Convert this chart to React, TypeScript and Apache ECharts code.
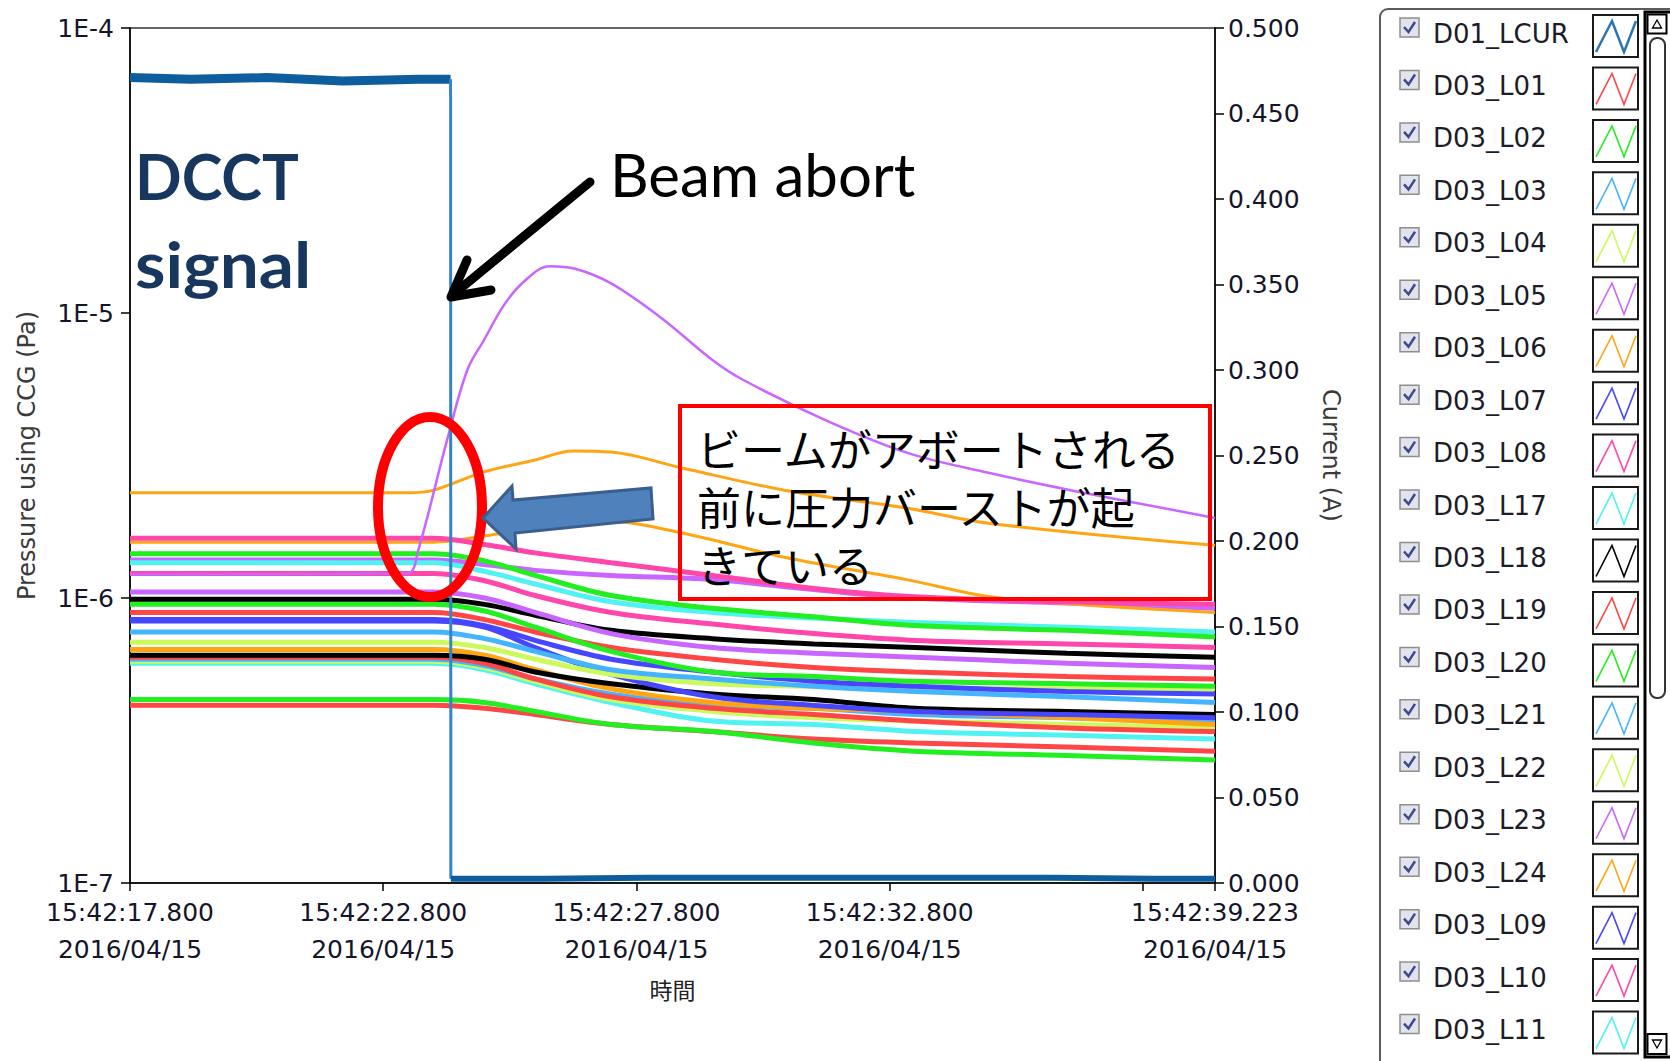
import React, { useEffect, useRef } from 'react';
import * as echarts from 'echarts';

// ---------------- data ----------------
const X_MIN = 17.8;
const X_MAX = 39.223;
const X_TICK_VALUES = [17.8, 22.8, 27.8, 32.8, 37.8, 39.223];
const X_LABEL_VALUES = [17.8, 22.8, 27.8, 32.8, 39.223];
const DATE_LABEL = '2016/04/15';
const TIME_PREFIX = '15:42:';

// DCCT beam current (A), right axis
const DCCT_T = [17.8, 19.0, 20.5, 22.0, 23.5, 24.13, 24.135, 26.0, 28.0, 30.0, 32.0, 34.0, 36.0, 38.0, 39.223];
const DCCT_A = [0.471, 0.470, 0.471, 0.469, 0.470, 0.470, 0.0025, 0.0025, 0.003, 0.003, 0.003, 0.003, 0.003, 0.0025, 0.0025];
const ABORT_INDEX = 5;

// Common time grid (s within 15:42) for the gauge traces
const T_GRID = [17.8, 23.8, 24.8, 25.8, 27.3, 29.3, 31.3, 33.3, 36.3, 39.223];

// Pressures in units of 1E-6 Pa
const L01 = [0.89, 0.89, 0.84, 0.76, 0.67, 0.61, 0.57, 0.55, 0.53, 0.52];
const L02 = [1.43, 1.43, 1.35, 1.20, 1.02, 0.92, 0.86, 0.80, 0.77, 0.73];
const L03 = [0.76, 0.76, 0.72, 0.65, 0.56, 0.52, 0.49, 0.47, 0.45, 0.43];
const L04 = [0.70, 0.70, 0.67, 0.61, 0.54, 0.50, 0.49, 0.48, 0.48, 0.48];
const L07 = [0.84, 0.84, 0.80, 0.71, 0.61, 0.55, 0.51, 0.49, 0.47, 0.46];
const L08 = [1.62, 1.62, 1.54, 1.44, 1.33, 1.20, 1.08, 1.01, 0.97, 0.95];
const L09 = [0.83, 0.83, 0.79, 0.67, 0.54, 0.45, 0.42, 0.40, 0.39, 0.38];
const L10 = [1.22, 1.22, 1.15, 1.02, 0.89, 0.81, 0.75, 0.71, 0.69, 0.67];
const L11 = [0.59, 0.59, 0.56, 0.50, 0.43, 0.37, 0.36, 0.34, 0.33, 0.32];
const L12 = [0.63, 0.63, 0.61, 0.55, 0.50, 0.46, 0.44, 0.41, 0.40, 0.39];
const L13 = [0.42, 0.42, 0.41, 0.39, 0.36, 0.34, 0.32, 0.31, 0.30, 0.29];
const L14 = [0.44, 0.44, 0.43, 0.40, 0.36, 0.34, 0.31, 0.29, 0.28, 0.27];
const L17 = [1.33, 1.33, 1.24, 1.12, 0.97, 0.89, 0.85, 0.82, 0.79, 0.76];
const L18 = [0.99, 0.99, 0.95, 0.87, 0.77, 0.72, 0.69, 0.67, 0.64, 0.62];
const L19 = [0.62, 0.62, 0.59, 0.52, 0.45, 0.41, 0.39, 0.37, 0.35, 0.34];
const L20 = [0.95, 0.95, 0.90, 0.79, 0.65, 0.55, 0.53, 0.51, 0.50, 0.49];
const L21 = [0.61, 0.61, 0.58, 0.52, 0.46, 0.42, 0.41, 0.39, 0.38, 0.37];
const L22 = [0.60, 0.60, 0.57, 0.51, 0.44, 0.40, 0.38, 0.37, 0.36, 0.35];
const L23 = [1.36, 1.36, 1.31, 1.25, 1.20, 1.16, 1.07, 1.00, 0.96, 0.92];
const L25 = [1.05, 1.05, 1.00, 0.89, 0.75, 0.67, 0.64, 0.62, 0.59, 0.57];
const L26 = [0.66, 0.66, 0.63, 0.56, 0.48, 0.43, 0.41, 0.40, 0.38, 0.36];

// Traces with their own sampling
const L05_T = [17.8, 23.27, 23.49, 24.06, 24.46, 24.79, 25.19, 25.58, 26.08, 26.59, 27.30, 28.29, 29.30, 29.91, 31.53, 33.15, 34.75, 36.37, 39.223];
const L05 = [1.21, 1.22, 1.47, 3.58, 6.31, 8.04, 10.7, 12.9, 14.6, 14.3, 12.7, 9.61, 6.84, 5.82, 4.21, 3.23, 2.75, 2.39, 1.91];
const L06_T = [17.8, 23.29, 23.80, 24.79, 25.80, 26.55, 27.30, 28.70, 30.72, 33.13, 34.75, 39.223];
const L06 = [2.34, 2.34, 2.39, 2.77, 3.05, 3.28, 3.25, 2.86, 2.39, 2.07, 1.83, 1.53];
const L24_T = [17.8, 23.80, 24.79, 25.80, 27.30, 28.70, 30.72, 33.13, 34.98, 39.223];
const L24 = [1.57, 1.57, 1.65, 1.76, 1.85, 1.69, 1.39, 1.16, 1.00, 0.89];

const COL = {
  lcur: '#0E5E9F',
  red: '#FF4646',
  green: '#22EE22',
  lblue: '#44B4FF',
  yg: '#CCFA5C',
  violet: '#C866FF',
  orange: '#FFA514',
  blue: '#4646FF',
  pink: '#FF46AA',
  cyan: '#50F2F2',
  black: '#000000',
};

const LEGEND_NAMES = ['D01_LCUR', 'D03_L01', 'D03_L02', 'D03_L03', 'D03_L04', 'D03_L05', 'D03_L06', 'D03_L07', 'D03_L08', 'D03_L17', 'D03_L18', 'D03_L19', 'D03_L20', 'D03_L21', 'D03_L22', 'D03_L23', 'D03_L24', 'D03_L09', 'D03_L10', 'D03_L11'];
const LEGEND_COLORS = ['#2C74B2', COL.red, COL.green, COL.lblue, COL.yg, COL.violet, COL.orange, COL.blue, COL.pink, COL.cyan, COL.black, COL.red, COL.green, COL.lblue, COL.yg, COL.violet, COL.orange, COL.blue, COL.pink, COL.cyan];

const NOTE_TEXT = ['ビームがアボートされる', '前に圧力バーストが起', 'きている'];

type Trace = { name: string; color: string; t: number[]; v: number[]; width?: number };
const PRESSURE: Trace[] = [
  { name: 'D03_L13', color: COL.red, t: T_GRID, v: L13 },
  { name: 'D03_L14', color: COL.green, t: T_GRID, v: L14 },
  { name: 'D03_L11', color: COL.cyan, t: T_GRID, v: L11 },
  { name: 'D03_L22', color: COL.yg, t: T_GRID, v: L22 },
  { name: 'D03_L21', color: COL.lblue, t: T_GRID, v: L21 },
  { name: 'D03_L19', color: COL.red, t: T_GRID, v: L19 },
  { name: 'D03_L26', color: COL.orange, t: T_GRID, v: L26 },
  { name: 'D03_L12', color: COL.black, t: T_GRID, v: L12 },
  { name: 'D03_L09', color: COL.blue, t: T_GRID, v: L09 },
  { name: 'D03_L04', color: COL.yg, t: T_GRID, v: L04 },
  { name: 'D03_L03', color: COL.lblue, t: T_GRID, v: L03 },
  { name: 'D03_L07', color: COL.blue, t: T_GRID, v: L07 },
  { name: 'D03_L01', color: COL.red, t: T_GRID, v: L01 },
  { name: 'D03_L20', color: COL.green, t: T_GRID, v: L20 },
  { name: 'D03_L18', color: COL.black, t: T_GRID, v: L18 },
  { name: 'D03_L25', color: COL.violet, t: T_GRID, v: L25 },
  { name: 'D03_L10', color: COL.pink, t: T_GRID, v: L10 },
  { name: 'D03_L23', color: COL.violet, t: T_GRID, v: L23 },
  { name: 'D03_L17', color: COL.cyan, t: T_GRID, v: L17 },
  { name: 'D03_L02', color: COL.green, t: T_GRID, v: L02 },
  { name: 'D03_L24', color: COL.orange, t: L24_T, v: L24, width: 3 },
  { name: 'D03_L08', color: COL.pink, t: T_GRID, v: L08 },
  { name: 'D03_L06', color: COL.orange, t: L06_T, v: L06, width: 3 },
  { name: 'D03_L05', color: COL.violet, t: L05_T, v: L05, width: 2.5 },
];

// ---------------- helpers ----------------
const pad = (n: number, w: number) => String(n).padStart(w, '0');
function timeLabel(v: number): string {
  const sec = Math.floor(v + 1e-9);
  const ms = Math.round((v - sec) * 1000);
  return `${TIME_PREFIX}${pad(sec, 2)}.${pad(ms, 3)}\n${DATE_LABEL}`;
}

const TICK_FONT = 'DejaVu Sans';
const TEXT_COLOR = '#15152a';

function buildLegendGraphics(): any[] {
  const g: any[] = [];
  g.push({ type: 'rect', z: 1, shape: { x: 1380, y: 9, width: 320, height: 1100, r: 8 }, style: { fill: '#ffffff', stroke: '#5c5c5c', lineWidth: 2 } });
  const step = 52.45;
  LEGEND_NAMES.forEach((name, i) => {
    const cy = 18 + step * i;
    g.push({ type: 'rect', z: 2, shape: { x: 1400, y: cy, width: 19, height: 19 }, style: { fill: '#E2E3EC', stroke: '#8E8E8E', lineWidth: 1.5 } });
    g.push({ type: 'polyline', z: 3, shape: { points: [[1404, cy + 9], [1408.5, cy + 14], [1415, cy + 4]] }, style: { stroke: '#3C4B8F', lineWidth: 2.5, fill: null } });
    g.push({ type: 'text', z: 3, style: { text: name, x: 1433, y: 33.5 + step * i, font: `26px "${TICK_FONT}"`, fill: '#1c1c28', textVerticalAlign: 'middle', verticalAlign: 'middle' } });
    const by = 15 + step * i;
    g.push({ type: 'rect', z: 2, shape: { x: 1593, y: by, width: 45, height: 42 }, style: { fill: '#ffffff', stroke: '#1a1a1a', lineWidth: 2 } });
    g.push({ type: 'polyline', z: 3, shape: { points: [[1596, by + 37], [1612, by + 6], [1624, by + 37], [1636, by + 6]] }, style: { stroke: LEGEND_COLORS[i], lineWidth: i === 0 ? 2.5 : 1.6, fill: null } });
  });
  // scrollbar
  g.push({ type: 'rect', z: 4, shape: { x: 1645, y: 12, width: 30, height: 1045 }, style: { fill: '#ffffff', stroke: '#000000', lineWidth: 3 } });
  g.push({ type: 'rect', z: 5, shape: { x: 1647.5, y: 14.5, width: 19, height: 19 }, style: { fill: '#ffffff', stroke: '#000000', lineWidth: 2 } });
  g.push({ type: 'polygon', z: 6, shape: { points: [[1652.5, 28], [1657, 20], [1661.5, 28]] }, style: { fill: '#ffffff', stroke: '#000000', lineWidth: 1.3 } });
  g.push({ type: 'rect', z: 5, shape: { x: 1650, y: 38, width: 15, height: 660, r: 7 }, style: { fill: '#ffffff', stroke: '#333333', lineWidth: 2 } });
  g.push({ type: 'rect', z: 5, shape: { x: 1647.5, y: 1034, width: 19, height: 20 }, style: { fill: '#ffffff', stroke: '#000000', lineWidth: 2 } });
  g.push({ type: 'polygon', z: 6, shape: { points: [[1652.5, 1040], [1657, 1048], [1661.5, 1040]] }, style: { fill: '#ffffff', stroke: '#000000', lineWidth: 1.3 } });
  return g;
}

function buildAnnotationGraphics(): any[] {
  const z = 50;
  const noteFont = '44px "Noto Sans CJK JP"';
  return [
    { type: 'text', z, x: 135, y: 176, scaleX: 0.975, style: { text: 'DCCT', x: 0, y: 0, font: 'bold 63px Lato', fill: '#17375E', textVerticalAlign: 'middle', verticalAlign: 'middle' } },
    { type: 'text', z, x: 135, y: 264, scaleX: 1.1, style: { text: 'signal', x: 0, y: 0, font: 'bold 63px Lato', fill: '#17375E', textVerticalAlign: 'middle', verticalAlign: 'middle' } },
    { type: 'text', z, style: { text: 'Beam abort', x: 610, y: 174, font: '60px Lato', fill: '#000000', textVerticalAlign: 'middle', verticalAlign: 'middle' } },
    { type: 'polyline', z, shape: { points: [[590, 182], [455, 293]] }, style: { stroke: '#000000', lineWidth: 9, lineCap: 'round', fill: null } },
    { type: 'polyline', z, shape: { points: [[467, 260], [451, 297], [491, 290]] }, style: { stroke: '#000000', lineWidth: 9, lineCap: 'round', lineJoin: 'round', fill: null } },
    { type: 'ellipse', z, shape: { cx: 430, cy: 507, rx: 52, ry: 90 }, style: { stroke: '#FF0000', lineWidth: 10, fill: 'transparent' } },
    { type: 'polygon', z, shape: { points: [[483, 518], [512, 486], [513, 500], [651, 488], [653, 519], [515, 533], [516, 549]] }, style: { fill: '#4F81BD', stroke: '#3A5F8F', lineWidth: 3 } },
    { type: 'rect', z, shape: { x: 680, y: 406, width: 530, height: 193 }, style: { stroke: '#FF0000', lineWidth: 4, fill: 'transparent' } },
    ...NOTE_TEXT.map((line, i) => ({
      type: 'text', z,
      style: { text: line, x: 697, y: 448 + 58 * i, font: noteFont, fill: '#000000', textVerticalAlign: 'middle', verticalAlign: 'middle' },
    })),
  ];
}

function buildOption(): any {
  const pressureSeries = PRESSURE.map((p) => ({
    name: p.name,
    type: 'line',
    yAxisIndex: 0,
    showSymbol: false,
    symbol: 'none',
    silent: true,
    smooth: 0.35,
    z: 2,
    lineStyle: { color: p.color, width: p.width ?? 5 },
    itemStyle: { color: p.color },
    data: p.t.map((t, i) => [t, p.v[i] * 1e-6]),
  }));
  const dcctPairs = DCCT_T.map((t, i) => [t, DCCT_A[i]]);
  const dcctSeries = [
    { data: dcctPairs.slice(0, ABORT_INDEX + 1), width: 9, color: COL.lcur },
    { data: dcctPairs.slice(ABORT_INDEX, ABORT_INDEX + 2), width: 3, color: '#3584C6' },
    { data: dcctPairs.slice(ABORT_INDEX + 1), width: 6, color: COL.lcur },
  ].map((s) => ({
    name: 'D01_LCUR',
    type: 'line',
    yAxisIndex: 1,
    showSymbol: false,
    symbol: 'none',
    silent: true,
    z: 5,
    lineStyle: { color: s.color, width: s.width },
    itemStyle: { color: s.color },
    data: s.data,
  }));

  const tickLabel = { fontFamily: TICK_FONT, fontSize: 25, color: TEXT_COLOR };
  return {
    animation: false,
    backgroundColor: '#ffffff',
    textStyle: { fontFamily: TICK_FONT },
    grid: { left: 130, top: 28, width: 1085, height: 855, show: true, borderColor: '#333333', borderWidth: 1.5, backgroundColor: 'transparent' },
    xAxis: {
      type: 'value',
      min: X_MIN,
      max: X_MAX,
      name: '時間',
      nameLocation: 'middle',
      nameGap: 94,
      nameTextStyle: { fontFamily: 'Noto Sans CJK JP', fontSize: 23, color: '#222' },
      axisLine: { lineStyle: { color: '#000', width: 1.5 } },
      axisTick: { show: true, customValues: X_TICK_VALUES, length: 8, lineStyle: { color: '#000', width: 1.5 } },
      axisLabel: { ...tickLabel, customValues: X_LABEL_VALUES, formatter: (v: number) => timeLabel(v), margin: 11, lineHeight: 37 },
      splitLine: { show: false },
    },
    yAxis: [
      {
        type: 'log',
        logBase: 10,
        min: 1e-7,
        max: 1e-4,
        position: 'left',
        name: 'Pressure using CCG (Pa)',
        nameLocation: 'middle',
        nameGap: 91,
        nameTextStyle: { fontFamily: TICK_FONT, fontSize: 24, color: '#3a3a3a' },
        axisLine: { show: true, lineStyle: { color: '#000', width: 1.5 } },
        axisTick: { show: true, length: 9, lineStyle: { color: '#000', width: 1.5 } },
        minorTick: { show: false },
        axisLabel: { ...tickLabel, margin: 16, formatter: (v: number) => '1E' + Math.round(Math.log10(v)) },
        splitLine: { show: false },
      },
      {
        type: 'value',
        min: 0,
        max: 0.5,
        interval: 0.05,
        position: 'right',
        name: 'Current (A)',
        nameLocation: 'middle',
        nameRotate: -90,
        nameGap: 104,
        nameTextStyle: { fontFamily: TICK_FONT, fontSize: 24, color: '#3a3a3a' },
        axisLine: { show: true, lineStyle: { color: '#000', width: 1.5 } },
        axisTick: { show: true, length: 9, lineStyle: { color: '#000', width: 1.5 } },
        axisLabel: { ...tickLabel, margin: 13, formatter: (v: number) => v.toFixed(3) },
        splitLine: { show: false },
      },
    ],
    series: [...pressureSeries, ...dcctSeries],
    graphic: { elements: [...buildLegendGraphics(), ...buildAnnotationGraphics()] },
  };
}

export default function App() {
  const ref = useRef<HTMLDivElement>(null);
  useEffect(() => {
    if (!ref.current) return;
    const chart = echarts.init(ref.current, undefined, { renderer: 'svg' });
    chart.setOption(buildOption());
    return () => chart.dispose();
  }, []);
  return <div ref={ref} style={{ position: 'fixed', left: 0, top: 0, width: 1670, height: 1061, background: '#ffffff' }} />;
}
